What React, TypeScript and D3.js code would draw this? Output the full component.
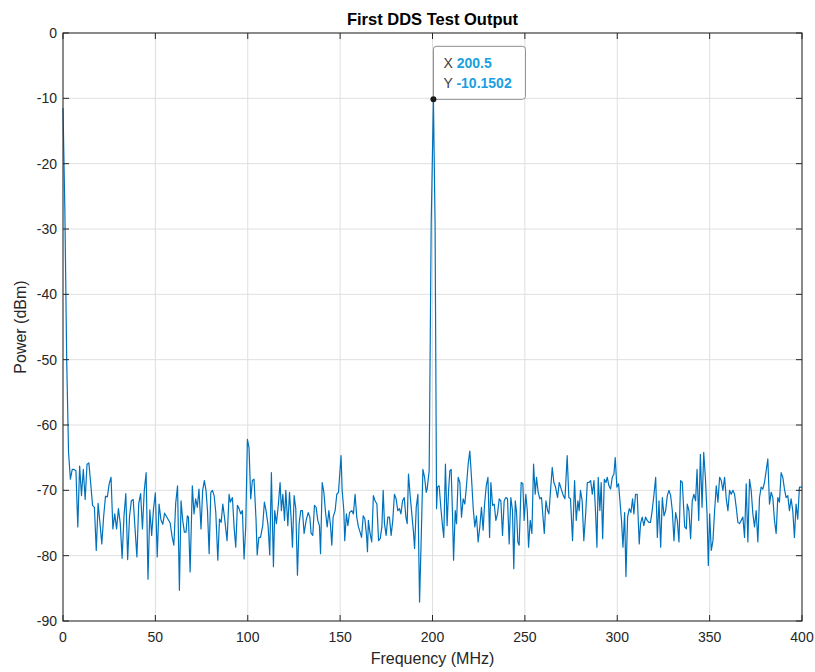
import React from 'react'
import * as d3 from 'd3'

// [frequency MHz, power dBm], one run per stretch of the axis
const seg1: [number, number][] = [
  [0, -11.5], [1, -27], [2, -50], [3, -64.2], [4, -68.3], [5, -66.8], [6, -66.8], [7, -67], [8, -75.6], [9, -66.3],
  [10, -70.8], [11, -66.8], [12, -71.4], [13, -66], [14, -65.8], [15, -69], [16, -72.3], [17, -72.6], [18, -79.2], [19, -72],
  [20, -75], [21, -78.2], [22, -74], [23, -70.9], [24, -71], [25, -69], [26, -68], [27, -75.9], [28, -73.6], [29, -75.9],
  [30, -72.8], [31, -75.1], [32, -80.4], [33, -74], [34, -70.5], [35, -80.6], [36, -74], [37, -71.6], [38, -71.4], [39, -75.9],
  [40, -80.2], [41, -72], [42, -70.5], [43, -75.9], [44, -70], [45, -67.3], [46, -83.6], [47, -73], [48, -76.9], [49, -72.8],
  [50, -70.4], [51, -80.2], [52, -72.1], [53, -74.5], [54, -75.2], [55, -73.5], [56, -74], [57, -74.5], [58, -75], [59, -77],
  [60, -78.4], [61, -72], [62, -69.3], [63, -85.3],
]

const seg2: [number, number][] = [
  [63.9, -71.6], [64.8, -74.6], [65.7, -76.4], [66.6, -76.4], [67.3, -73.9], [67.9, -74.1], [68.8, -82.5], [70.0, -69.3],
  [70.9, -73.6], [71.8, -71.3], [72.7, -72.6], [73.6, -69.8], [74.7, -75.9], [75.6, -70.0], [76.5, -68.5], [77.4, -70.0],
  [78.2, -73.1], [79.1, -79.7], [80.0, -70.3], [80.9, -70.0], [81.8, -70.8], [82.7, -73.4], [83.8, -80.7], [84.7, -74.4],
  [85.6, -74.9], [86.5, -72.1], [87.4, -74.1], [88.8, -77.7], [89.9, -70.6], [90.6, -71.8], [91.7, -71.1], [92.6, -75.6],
  [93.5, -78.7], [94.4, -72.3], [95.3, -72.8], [96.2, -73.6], [97.1, -73.1], [98.0, -80.5], [98.9, -75.6], [99.8, -62.2],
  [100.7, -63.5], [101.6, -71.3], [102.5, -68.5], [103.4, -68.3], [104.5, -74.6], [105.1, -79.9], [106.0, -77.2], [106.9, -77.2],
  [108.1, -75.4], [109.0, -71.8], [109.9, -73.1], [111.0, -75.4], [111.9, -79.9], [112.8, -67.3], [113.9, -81.7], [114.6, -73.1],
  [115.5, -75.1], [116.6, -72.1], [117.5, -68.8], [118.2, -73.1], [119.0, -70.6], [119.9, -74.6], [120.6, -70.0], [121.7, -75.4],
  [122.6, -70.3], [123.5, -74.4], [124.2, -78.7], [125.1, -70.8], [126.0, -72.8], [126.9, -83.0], [127.8, -75.1], [128.7, -73.1],
  [129.6, -73.1], [130.5, -76.6], [131.6, -74.6], [132.7, -73.4], [133.6, -74.1],
]

const seg3: [number, number][] = [
  [134.3, -76.6], [135.2, -76.9], [136.1, -72.3], [137.0, -72.6], [137.9, -74.6], [138.8, -75.4], [139.4, -79.7], [140.3, -68.8],
  [141.2, -70.3], [142.1, -73.4], [143.0, -75.6], [143.9, -73.1], [144.8, -75.4], [145.5, -78.4], [146.2, -74.1], [147.3, -73.1],
  [148.2, -70.6], [149.1, -70.3], [150.5, -64.7], [151.1, -70.0], [152.0, -73.1], [152.5, -77.7], [153.4, -73.6], [154.2, -75.4],
  [155.1, -73.4], [156.3, -73.1], [157.2, -73.6], [158.1, -70.6], [159.0, -74.1], [159.9, -75.6], [160.8, -76.4], [161.6, -77.2],
  [162.5, -73.9], [163.4, -74.4], [164.3, -76.9], [164.8, -79.4], [165.3, -74.6], [166.2, -76.6], [167.1, -77.9], [168.0, -70.8],
  [168.9, -71.6], [169.9, -72.1], [170.8, -77.7], [171.7, -77.4], [172.6, -75.6], [173.3, -70.0], [174.0, -75.1], [174.9, -76.9],
  [175.8, -74.1], [176.7, -74.1], [177.6, -76.9], [178.5, -74.6], [179.4, -70.6], [180.3, -71.3], [181.2, -73.1], [182.1, -72.8],
  [182.9, -73.6], [183.8, -71.6], [184.7, -71.1], [185.6, -74.1], [186.3, -75.1], [187.0, -67.5], [187.9, -70.8], [188.8, -73.6],
  [189.7, -76.4], [190.3, -78.9], [191.2, -72.6], [192.1, -70.6], [193.0, -87.1], [193.9, -77.2], [194.8, -66.8], [195.7, -68.0],
  [196.6, -70.3], [197.1, -69.8], [198.2, -67.0], [199.3, -29.0], [200.5, -10.1502], [201.4, -29.5], [202.2, -72.8],
]

const seg4: [number, number][] = [
  [202.7, -69.5], [203.6, -69.3], [204.5, -72.6], [205.4, -75.4], [206.1, -77.2], [207.0, -66.0], [207.9, -75.4], [208.7, -70.0],
  [209.4, -67.0], [210.1, -66.8], [210.8, -73.4], [211.4, -80.7], [212.3, -73.1], [213.0, -75.1], [213.9, -68.0], [214.8, -68.8],
  [215.7, -74.1], [216.6, -71.3], [217.5, -72.1], [218.4, -69.3], [219.3, -66.0], [220.2, -64.0], [221.1, -68.0], [222.0, -72.6],
  [222.9, -75.6], [223.8, -73.9], [224.7, -77.9], [225.6, -75.6], [226.5, -72.6], [227.4, -76.1], [228.2, -72.1], [229.1, -69.3],
  [230.0, -68.0], [230.9, -77.2], [231.6, -68.8], [232.5, -72.3], [233.4, -72.1], [234.3, -74.6], [235.2, -73.6], [236.1, -71.3],
  [237.0, -71.6], [237.9, -76.9], [238.8, -71.6], [239.7, -71.1], [240.6, -71.3], [241.5, -78.2], [242.4, -71.1], [243.3, -73.1],
  [244.0, -82.0], [244.8, -71.6], [245.5, -73.4], [246.2, -77.9], [246.9, -78.4], [248.0, -68.8], [248.9, -69.0], [249.6, -74.6],
  [250.5, -70.6], [251.3, -73.1], [252.0, -78.7], [252.9, -74.6], [253.8, -76.6], [254.7, -66.0], [255.6, -70.6], [256.3, -68.0],
  [257.2, -70.3], [258.1, -71.3], [259.0, -71.1], [259.9, -74.4], [260.5, -76.6], [261.4, -71.6], [262.3, -73.1], [263.0, -73.6],
  [263.9, -70.0], [264.8, -66.5], [265.7, -68.8], [266.6, -69.5], [267.7, -71.1], [268.6, -68.8],
]

const seg5: [number, number][] = [
  [269.9, -70.0], [270.8, -70.8], [271.7, -71.3], [272.9, -64.7], [273.8, -71.1], [274.7, -71.3], [275.8, -77.7], [276.9, -68.5],
  [277.8, -74.6], [278.7, -71.6], [279.4, -73.1], [280.1, -70.0], [281.0, -71.6], [281.9, -77.7], [282.9, -73.6], [283.8, -68.8],
  [284.7, -68.8], [285.6, -68.5], [286.5, -70.6], [287.4, -68.5], [288.3, -73.6], [289.0, -78.7], [289.7, -68.0], [290.6, -73.1],
  [291.3, -68.8], [292.1, -77.4], [293.0, -68.3], [293.9, -68.8], [294.6, -68.0], [295.5, -69.3], [296.4, -69.8], [297.3, -68.0],
  [298.2, -67.5], [298.9, -65.0], [299.8, -69.5], [300.7, -69.0], [301.6, -72.1], [302.3, -74.6], [303.1, -78.7], [304.0, -73.4],
  [304.7, -83.2], [305.6, -74.1], [306.5, -72.8], [307.4, -73.4], [308.3, -71.3], [309.0, -73.6], [309.9, -70.6], [310.8, -70.6],
  [311.9, -78.2], [312.6, -75.1], [313.5, -74.1], [314.4, -75.4], [315.3, -74.1], [316.2, -74.6], [317.1, -74.9], [318.0, -74.9],
  [318.9, -73.1], [319.9, -70.6], [320.8, -68.0], [321.7, -77.2], [322.6, -71.6], [323.5, -78.7], [324.4, -71.1], [325.3, -73.9],
  [326.2, -73.1], [327.1, -70.8], [328.0, -70.0], [328.9, -70.8], [329.8, -73.1], [330.7, -77.7], [331.6, -73.4], [332.5, -74.6],
  [333.4, -77.9], [334.3, -68.5], [335.2, -68.8],
]

const seg6: [number, number][] = [
  [336.5, -75.6], [337.4, -75.9], [337.9, -72.1], [338.8, -73.1], [339.7, -77.4], [340.6, -71.6], [341.5, -70.6], [342.4, -71.6],
  [343.2, -66.8], [344.1, -74.6], [345.0, -64.5], [345.9, -72.6], [346.8, -64.2], [347.7, -68.0], [348.6, -73.6], [349.3, -81.5],
  [350.0, -73.6], [350.9, -79.2], [351.8, -77.7], [352.7, -73.1], [353.6, -69.3], [354.5, -71.8], [355.4, -68.0], [356.3, -68.5],
  [357.2, -70.0], [358.1, -68.0], [359.0, -71.3], [359.9, -73.1], [360.8, -70.0], [361.7, -70.6], [362.6, -70.0], [363.5, -70.6],
  [364.4, -72.6], [365.3, -74.9], [366.2, -75.1], [367.1, -74.6], [368.0, -74.1], [368.9, -77.2], [369.8, -69.0], [370.7, -77.9],
  [371.6, -68.3], [372.5, -70.0], [373.4, -73.6], [374.3, -75.6], [375.2, -73.1], [376.1, -77.9], [377.0, -71.1], [377.9, -69.5],
  [378.8, -69.8], [379.7, -68.8], [380.6, -67.0], [381.5, -65.2], [382.4, -72.1], [383.3, -70.3], [384.2, -71.1], [385.1, -74.6],
  [386.0, -76.6], [386.9, -71.1], [387.8, -71.8], [388.7, -67.3], [389.6, -68.0], [390.5, -69.8], [391.4, -71.1], [392.3, -70.8],
  [393.2, -73.1], [394.1, -71.3], [395.0, -73.1], [395.9, -77.2], [396.8, -72.1], [397.7, -74.4], [398.6, -69.5], [399.2, -69.5],
  [400, -69.5],
]

const xTicks = [0, 50, 100, 150, 200, 250, 300, 350, 400]
const yTicks = [0, -10, -20, -30, -40, -50, -60, -70, -80, -90]

const tipX = 200.5
const tipY = -10.1502

const font = '"Liberation Sans", Arial, Helvetica, sans-serif'
const axisColor = '#262626'

export default function App() {
  const left = 63, right = 802, top = 33, bottom = 621
  const x = d3.scaleLinear().domain([0, 400]).range([left, right])
  const y = d3.scaleLinear().domain([-90, 0]).range([bottom, top])
  const data = [...seg1, ...seg2, ...seg3, ...seg4, ...seg5, ...seg6]
  const line = d3.line<[number, number]>().x(d => x(d[0])).y(d => y(d[1]))
  const tick = 6

  const mx = x(tipX), my = y(tipY)

  return (
    <div style={{ position: 'fixed', left: 0, top: 0 }}>
      <svg width={815} height={672} style={{ display: 'block', background: '#fff' }} fontFamily={font}>
        <rect x={0} y={0} width={815} height={672} fill="#fff" />
        {/* grid */}
        {xTicks.map(t => (
          <line key={'gx' + t} x1={x(t)} x2={x(t)} y1={top} y2={bottom} stroke="#dfdfdf" strokeWidth={1} />
        ))}
        {yTicks.map(t => (
          <line key={'gy' + t} x1={left} x2={right} y1={y(t)} y2={y(t)} stroke="#dfdfdf" strokeWidth={1} />
        ))}

        <path d={line(data) || ''} fill="none" stroke="#0072BD" strokeWidth={1.2} strokeLinejoin="round" />

        {/* box and inward ticks on all four sides */}
        <rect x={left} y={top} width={right - left} height={bottom - top} fill="none" stroke={axisColor} strokeWidth={1} />
        {xTicks.map(t => (
          <g key={'tx' + t}>
            <line x1={x(t)} x2={x(t)} y1={bottom} y2={bottom - tick} stroke={axisColor} />
            <line x1={x(t)} x2={x(t)} y1={top} y2={top + tick} stroke={axisColor} />
            <text x={x(t)} y={642} textAnchor="middle" fontSize={14} fill={axisColor}>{t}</text>
          </g>
        ))}
        {yTicks.map(t => (
          <g key={'ty' + t}>
            <line x1={left} x2={left + tick} y1={y(t)} y2={y(t)} stroke={axisColor} />
            <line x1={right} x2={right - tick} y1={y(t)} y2={y(t)} stroke={axisColor} />
            <text x={57} y={y(t) + 5} textAnchor="end" fontSize={14} fill={axisColor}>{t}</text>
          </g>
        ))}

        <text x={(left + right) / 2} y={25} textAnchor="middle" fontSize={16.5} fontWeight="bold" fill="#000">First DDS Test Output</text>
        <text x={(left + right) / 2} y={664} textAnchor="middle" fontSize={16} fill={axisColor}>Frequency (MHz)</text>
        <text transform={`translate(26,${(top + bottom) / 2}) rotate(-90)`} textAnchor="middle" fontSize={16} fill={axisColor}>Power (dBm)</text>

        {/* data tip */}
        <rect x={mx} y={my - 53} width={92} height={53} rx={3} fill="#fff" fillOpacity={0.9} stroke="#8c8c8c" strokeWidth={1} />
        <text x={mx + 10} y={my - 31} fontSize={14} fill="#404040">
          X <tspan fill="#1a9fe0" fontWeight="bold">{tipX}</tspan>
        </text>
        <text x={mx + 10} y={my - 11} fontSize={14} fill="#404040">
          Y <tspan fill="#1a9fe0" fontWeight="bold">{tipY}</tspan>
        </text>
        <circle cx={mx} cy={my} r={3} fill="#1a1a1a" />
      </svg>
    </div>
  )
}
